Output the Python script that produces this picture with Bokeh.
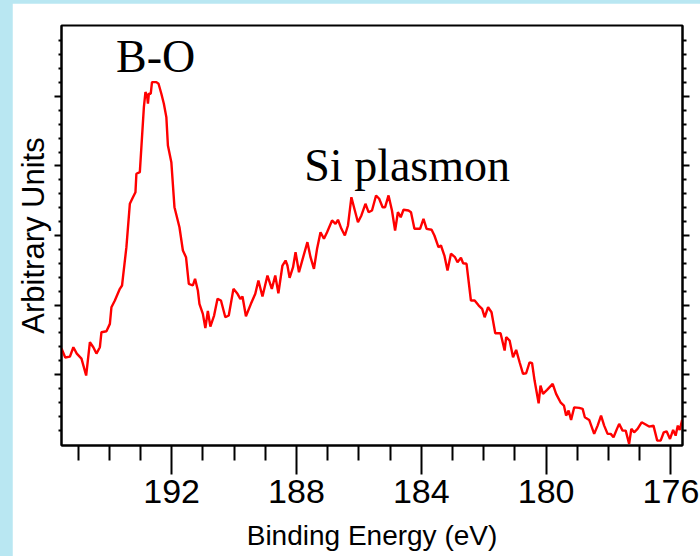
from bokeh.plotting import figure
from bokeh.models import Range1d, FixedTicker, LinearAxis, Label
from bokeh.layouts import column
from bokeh.embed import file_html
from bokeh.resources import INLINE

# ---- data (binding energy in eV, intensity in arbitrary units)
binding_energy = [
    195.53, 195.41, 195.26, 195.15, 195.04, 194.89, 194.74, 194.62, 194.51, 194.41,
    194.30, 194.25, 194.09, 193.98, 193.93, 193.82, 193.66, 193.59, 193.56, 193.45,
    193.34, 193.24, 193.16, 193.13, 193.02, 192.97, 192.89, 192.84, 192.79, 192.76,
    192.73, 192.67, 192.63, 192.49, 192.42, 192.33, 192.25, 192.17, 192.12, 192.01,
    191.91, 191.75, 191.64, 191.54, 191.45, 191.32, 191.25, 191.16, 191.11, 191.00,
    190.92, 190.84, 190.76, 190.64, 190.53, 190.42, 190.28, 190.17, 190.02, 189.89,
    189.80, 189.73, 189.62, 189.46, 189.32, 189.22, 189.09, 188.93, 188.79, 188.68,
    188.58, 188.45, 188.35, 188.29, 188.22, 188.11, 188.03, 187.92, 187.81, 187.65,
    187.55, 187.44, 187.34, 187.23, 187.12, 187.02, 186.86, 186.75, 186.67, 186.56,
    186.45, 186.35, 186.24, 186.13, 186.03, 185.92, 185.79, 185.69, 185.58, 185.45,
    185.35, 185.24, 185.16, 185.05, 184.94, 184.84, 184.75, 184.66, 184.57, 184.41,
    184.33, 184.22, 184.04, 183.93, 183.83, 183.67, 183.58, 183.45, 183.37, 183.26,
    183.16, 183.05, 182.92, 182.84, 182.73, 182.66, 182.55, 182.41, 182.29, 182.16,
    182.05, 181.97, 181.86, 181.75, 181.63, 181.46, 181.33, 181.28, 181.17, 181.06,
    180.96, 180.85, 180.74, 180.64, 180.53, 180.45, 180.37, 180.24, 180.18, 180.10,
    179.97, 179.79, 179.68, 179.54, 179.43, 179.36, 179.28, 179.20, 179.10, 178.94,
    178.83, 178.76, 178.62, 178.46, 178.35, 178.24, 178.14, 178.03, 177.93, 177.84,
    177.73, 177.66, 177.55, 177.45, 177.34, 177.27, 177.18, 177.07, 176.94, 176.81,
    176.70, 176.56, 176.44, 176.33, 176.23, 176.14, 176.03, 175.93, 175.85, 175.78,
    175.72, 175.64,
]
intensity = [
    1.374, 1.245, 1.259, 1.393, 1.302, 1.230, 0.986, 1.465, 1.393, 1.302,
    1.393, 1.609, 1.623, 1.729, 1.968, 2.065, 2.233, 2.281, 2.400, 2.832,
    3.456, 3.551, 3.623, 3.888, 3.911, 4.271, 4.846, 5.062, 5.014, 4.895,
    5.039, 5.039, 5.206, 5.206, 5.183, 5.039, 4.895, 4.702, 4.295, 4.055,
    3.407, 3.119, 2.784, 2.688, 2.305, 2.281, 2.377, 2.209, 2.017, 1.873,
    1.669, 1.914, 1.691, 1.849, 2.089, 2.065, 1.824, 1.849, 2.233, 2.161,
    2.089, 2.122, 1.839, 2.017, 2.161, 2.353, 2.122, 2.424, 2.233, 2.424,
    2.170, 2.568, 2.640, 2.568, 2.391, 2.544, 2.760, 2.472, 2.650, 2.904,
    2.688, 2.521, 2.809, 3.047, 2.953, 3.047, 3.216, 3.168, 3.226, 3.096,
    3.000, 3.144, 3.551, 3.360, 3.191, 3.288, 3.456, 3.335, 3.360, 3.576,
    3.528, 3.407, 3.407, 3.576, 3.360, 3.072, 3.335, 3.263, 3.370, 3.360,
    3.335, 3.096, 3.096, 3.240, 3.096, 3.082, 3.000, 2.832, 2.856, 2.712,
    2.496, 2.737, 2.688, 2.616, 2.679, 2.601, 2.593, 2.065, 2.065, 1.993,
    1.945, 1.824, 1.968, 1.896, 1.594, 1.594, 1.345, 1.537, 1.489, 1.249,
    1.355, 1.177, 1.010, 1.019, 1.177, 1.163, 0.914, 0.587, 0.842, 0.722,
    0.780, 0.866, 0.722, 0.601, 0.554, 0.410, 0.482, 0.348, 0.529, 0.521,
    0.506, 0.386, 0.348, 0.147, 0.266, 0.410, 0.266, 0.147, 0.147, 0.098,
    0.219, 0.291, 0.194, 0.194, 0.003, 0.219, 0.170, 0.219, 0.314, 0.281,
    0.252, 0.266, 0.050, 0.050, 0.170, 0.184, 0.075, 0.204, 0.122, 0.266,
    0.204, 0.348,
]

x_major_ticks = [192, 188, 184, 180, 176]
x_minor_ticks = [195, 194, 193, 191, 190, 189, 187, 186, 185, 183, 182, 181, 179, 178, 177]
y_major_ticks = [1, 2, 3, 4, 5]
y_minor_ticks = [0.2, 0.4, 0.6, 0.8, 1.2, 1.4, 1.6, 1.8, 2.2, 2.4, 2.6, 2.8,
                 3.2, 3.4, 3.6, 3.8, 4.2, 4.4, 4.6, 4.8, 5.2, 5.4, 5.6, 5.8]

x_title = "Binding Energy (eV)"
y_title = "Arbitrary Units"
annotations = ["B-O", "Si plasmon"]

BLUE = "#b9e7f2"
SANS = "Liberation Sans"

p = figure(width=688, height=553,
           x_range=Range1d(195.53, 175.63), y_range=Range1d(-0.02, 6.02),
           output_backend="svg", toolbar_location=None,
           min_border_left=46, min_border_right=18, min_border_top=22, min_border_bottom=111,
           background_fill_color="white", border_fill_color="white",
           outline_line_color="black", outline_line_width=2)
p.grid.visible = False

p.line(binding_energy, intensity, line_color="#ff0000", line_width=2.4)

blank_y = {t: "" for t in y_major_ticks}

# bottom axis
xa = p.xaxis[0]
xa.ticker = FixedTicker(ticks=x_major_ticks, minor_ticks=x_minor_ticks)
xa.axis_line_width = 2
xa.major_tick_line_width = 2
xa.minor_tick_line_width = 2
xa.major_tick_in = 0
xa.minor_tick_in = 0
xa.major_tick_out = 29
xa.minor_tick_out = 15
xa.major_label_text_font = SANS
xa.major_label_text_font_size = "34px"
xa.major_label_text_color = "black"
xa.major_label_standoff = 5
xa.axis_label = x_title
xa.axis_label_text_font = SANS
xa.axis_label_text_font_size = "28px"
xa.axis_label_text_font_style = "normal"
xa.axis_label_text_color = "black"
xa.axis_label_standoff = 14

# left axis
ya = p.yaxis[0]
ya.ticker = FixedTicker(ticks=y_major_ticks, minor_ticks=y_minor_ticks)
ya.axis_line_width = 2
ya.major_tick_line_width = 2
ya.minor_tick_line_width = 2
ya.major_tick_in = 0
ya.minor_tick_in = 0
ya.major_tick_out = 7
ya.minor_tick_out = 3
ya.major_label_overrides = blank_y
ya.major_label_text_font_size = "1px"
ya.major_label_standoff = 0
ya.axis_label = y_title
ya.axis_label_text_font = SANS
ya.axis_label_text_font_size = "31px"
ya.axis_label_text_font_style = "normal"
ya.axis_label_text_color = "black"
ya.axis_label_standoff = 4

# right axis (ticks only)
ra = LinearAxis(ticker=FixedTicker(ticks=y_major_ticks, minor_ticks=y_minor_ticks),
                axis_line_width=2, major_tick_line_width=2, minor_tick_line_width=2,
                major_tick_in=0, minor_tick_in=0, major_tick_out=7, minor_tick_out=4,
                major_label_overrides=blank_y,
                major_label_text_font_size="1px", major_label_standoff=0)
p.add_layout(ra, "right")

p.add_layout(Label(x=193.78, y=5.575, text=annotations[0], text_font="Liberation Serif",
                   text_font_size="46px", text_color="black",
                   text_align="left", text_baseline="alphabetic"))
p.add_layout(Label(x=187.75, y=4.007, text=annotations[1], text_font="Liberation Serif",
                   text_font_size="46px", text_color="black",
                   text_align="left", text_baseline="alphabetic"))

p.margin = (3, 0, 0, 12)
layout = column(p, width=700, height=556, styles={"background-color": BLUE})

open("out.html", "w").write(file_html(layout, INLINE))
